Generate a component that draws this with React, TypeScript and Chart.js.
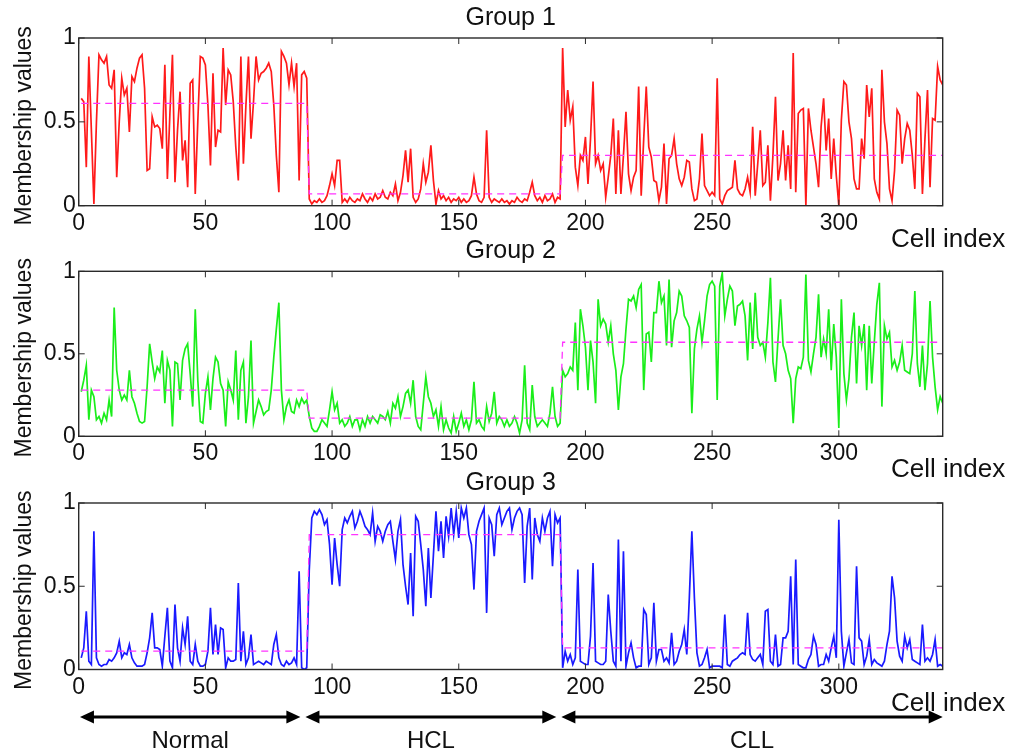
import React, { useEffect, useRef } from "react";
import { Chart, registerables } from "chart.js";
Chart.register(...registerables);

// ---------- data ----------
const regionNames = ["Normal", "HCL", "CLL"];
const regionFirst = [1, 91, 191];
const regionLast = [90, 190, 341];
const arrowFrom = [0.5, 89.5, 190.5];
const arrowTo = [87.5, 188.5, 341];
const xTicks = [0, 50, 100, 150, 200, 250, 300];
const yTicks = [0, 0.5, 1];
const xMax = 341;

const g1Normal = [0.64,0.62,0.23,0.89,0.45,0.01,0.50,0.90,0.87,0.85,
 0.89,0.72,0.70,0.81,0.17,0.50,0.76,0.66,0.70,0.44,
 0.77,0.74,0.82,0.88,0.90,0.70,0.21,0.22,0.53,0.47,
 0.48,0.46,0.34,0.84,0.16,0.55,0.90,0.14,0.45,0.68,
 0.27,0.39,0.11,0.73,0.75,0.07,0.50,0.89,0.88,0.84,
 0.60,0.24,0.79,0.35,0.45,0.44,0.94,0.60,0.81,0.78,
 0.62,0.35,0.15,0.89,0.25,0.60,0.89,0.40,0.62,0.89,
 0.75,0.79,0.80,0.82,0.85,0.80,0.60,0.30,0.08,0.92,
 0.89,0.85,0.72,0.85,0.71,0.85,0.15,0.78,0.80,0.76];
const g1Hcl = [0.04,0.01,0.03,0.02,0.04,0.02,0.03,0.06,0.12,0.19,
 0.12,0.27,0.27,0.02,0.04,0.02,0.05,0.03,0.02,0.04,
 0.03,0.07,0.04,0.02,0.05,0.03,0.07,0.04,0.05,0.09,
 0.05,0.04,0.08,0.06,0.13,0.03,0.08,0.18,0.33,0.14,
 0.34,0.05,0.02,0.04,0.10,0.25,0.14,0.20,0.36,0.15,
 0.01,0.09,0.04,0.06,0.03,0.05,0.02,0.04,0.03,0.05,
 0.02,0.04,0.02,0.03,0.06,0.17,0.07,0.03,0.02,0.05,
 0.45,0.05,0.02,0.04,0.03,0.02,0.04,0.02,0.03,0.01,
 0.03,0.02,0.05,0.03,0.02,0.04,0.03,0.08,0.14,0.06,
 0.03,0.05,0.02,0.06,0.03,0.04,0.07,0.02,0.05,0.04];
const g1Cll = [0.94,0.47,0.69,0.51,0.59,0.23,0.12,0.30,0.27,0.41,
 0.13,0.40,0.74,0.25,0.30,0.21,0.25,0.05,0.17,0.30,
 0.52,0.07,0.45,0.07,0.30,0.56,0.19,0.09,0.17,0.21,
 0.71,0.06,0.40,0.71,0.35,0.29,0.15,0.14,0.03,0.11,
 0.37,0.01,0.28,0.30,0.40,0.25,0.16,0.12,0.17,0.27,
 0.26,0.10,0.03,0.04,0.16,0.43,0.12,0.09,0.06,0.08,
 0.06,0.76,0.04,0.01,0.06,0.09,0.10,0.11,0.27,0.10,
 0.07,0.06,0.10,0.17,0.08,0.47,0.06,0.25,0.45,0.12,
 0.14,0.36,0.03,0.30,0.65,0.15,0.25,0.45,0.15,0.36,
 0.10,0.91,0.08,0.55,0.57,0.58,0.00,0.58,0.45,0.35,
 0.25,0.11,0.47,0.64,0.33,0.52,0.16,0.40,0.18,0.00,
 0.51,0.74,0.72,0.50,0.40,0.16,0.10,0.10,0.40,0.28,
 0.72,0.53,0.70,0.16,0.08,0.04,0.81,0.50,0.37,0.10,
 0.03,0.21,0.57,0.54,0.25,0.40,0.49,0.45,0.30,0.10,
 0.67,0.65,0.07,0.40,0.69,0.11,0.52,0.51,0.83,0.75,
 0.72];
const g1Means = [0.61, 0.07, 0.30];

const g2Normal = [0.27,0.34,0.43,0.10,0.28,0.24,0.10,0.12,0.08,0.14,
 0.10,0.22,0.12,0.78,0.40,0.28,0.22,0.25,0.22,0.40,
 0.24,0.20,0.14,0.09,0.08,0.09,0.30,0.56,0.45,0.35,
 0.42,0.39,0.52,0.20,0.46,0.40,0.06,0.45,0.44,0.22,
 0.46,0.53,0.56,0.38,0.18,0.77,0.34,0.09,0.08,0.26,
 0.36,0.16,0.35,0.48,0.45,0.32,0.28,0.06,0.33,0.28,
 0.22,0.52,0.10,0.40,0.45,0.08,0.24,0.58,0.08,0.15,
 0.22,0.18,0.13,0.15,0.16,0.28,0.48,0.65,0.81,0.28,
 0.10,0.18,0.22,0.15,0.14,0.22,0.18,0.23,0.20,0.22];
const g2Hcl = [0.12,0.05,0.03,0.03,0.06,0.10,0.08,0.06,0.16,0.27,
 0.16,0.20,0.08,0.10,0.06,0.08,0.12,0.06,0.10,0.10,
 0.04,0.10,0.06,0.12,0.08,0.12,0.10,0.08,0.13,0.12,
 0.10,0.15,0.08,0.20,0.17,0.24,0.12,0.18,0.26,0.28,
 0.20,0.34,0.12,0.06,0.04,0.20,0.36,0.24,0.20,0.12,
 0.16,0.06,0.18,0.04,0.10,0.05,0.02,0.12,0.03,0.08,
 0.14,0.06,0.10,0.04,0.10,0.33,0.08,0.10,0.06,0.04,
 0.18,0.09,0.14,0.27,0.08,0.12,0.10,0.06,0.10,0.06,
 0.08,0.12,0.08,0.02,0.10,0.43,0.08,0.04,0.31,0.12,
 0.06,0.08,0.10,0.08,0.06,0.14,0.30,0.12,0.06,0.08];
const g2Cll = [0.40,0.36,0.38,0.42,0.40,0.69,0.28,0.77,0.67,0.54,
 0.28,0.58,0.45,0.20,0.83,0.67,0.71,0.68,0.57,0.67,
 0.50,0.40,0.16,0.36,0.44,0.65,0.83,0.82,0.85,0.78,
 0.89,0.92,0.28,0.62,0.63,0.45,0.75,0.75,0.94,0.81,
 0.85,0.55,0.95,0.54,0.70,0.75,0.88,0.85,0.73,0.70,
 0.66,0.14,0.53,0.65,0.73,0.57,0.70,0.85,0.92,0.94,
 0.91,0.22,0.91,0.99,0.73,0.83,0.91,0.88,0.67,0.79,
 0.80,0.82,0.73,0.46,0.81,0.53,0.87,0.60,0.55,0.57,
 0.48,0.69,0.96,0.45,0.33,0.59,0.83,0.55,0.50,0.40,
 0.35,0.08,0.35,0.42,0.41,0.48,0.98,0.46,0.39,0.50,
 0.60,0.86,0.48,0.59,0.50,0.77,0.40,0.68,0.48,0.05,
 0.83,0.38,0.22,0.35,0.60,0.75,0.32,0.67,0.55,0.68,
 0.28,0.67,0.32,0.57,0.80,0.93,0.18,0.67,0.59,0.63,
 0.42,0.46,0.40,0.45,0.55,0.40,0.39,0.38,0.50,0.88,
 0.44,0.30,0.55,0.28,0.44,0.82,0.48,0.30,0.16,0.24,
 0.20];
const g2Means = [0.28, 0.11, 0.57];

const g3Normal = [0.07,0.13,0.35,0.05,0.03,0.83,0.07,0.03,0.02,0.03,
 0.03,0.06,0.05,0.07,0.10,0.17,0.07,0.10,0.09,0.15,
 0.07,0.04,0.02,0.02,0.02,0.03,0.10,0.19,0.34,0.13,
 0.13,0.12,0.02,0.20,0.37,0.05,0.01,0.39,0.13,0.05,
 0.25,0.15,0.32,0.05,0.03,0.15,0.05,0.02,0.02,0.03,
 0.11,0.37,0.09,0.27,0.09,0.25,0.24,0.01,0.07,0.05,
 0.05,0.06,0.52,0.05,0.23,0.03,0.07,0.21,0.03,0.04,
 0.05,0.04,0.03,0.05,0.04,0.03,0.15,0.21,0.07,0.03,
 0.02,0.05,0.03,0.04,0.07,0.03,0.59,0.01,0.00,0.01];
const g3Hcl = [0.60,0.91,0.95,0.93,0.96,0.93,0.87,0.90,0.75,0.51,
 0.79,0.63,0.50,0.84,0.91,0.88,0.92,0.95,0.85,0.89,
 0.95,0.91,0.86,0.84,0.81,0.94,0.77,0.86,0.83,0.77,
 0.83,0.87,0.89,0.77,0.66,0.83,0.90,0.63,0.50,0.39,
 0.70,0.32,0.92,0.89,0.75,0.60,0.38,0.73,0.43,0.69,
 0.95,0.71,0.89,0.67,0.92,0.80,0.97,0.81,0.95,0.79,
 0.97,0.91,0.97,0.81,0.75,0.48,0.83,0.89,0.93,0.97,
 0.34,0.91,0.87,0.68,0.93,0.97,0.87,0.91,0.95,0.97,
 0.84,0.91,0.95,0.97,0.93,0.52,0.86,0.97,0.54,0.91,
 0.81,0.77,0.91,0.83,0.91,0.95,0.62,0.93,0.88,0.91];
const g3Cll = [0.01,0.11,0.05,0.09,0.03,0.07,0.60,0.05,0.04,0.03,
 0.03,0.20,0.64,0.05,0.04,0.03,0.03,0.05,0.45,0.23,
 0.05,0.02,0.78,0.05,0.71,0.02,0.10,0.16,0.07,0.01,
 0.02,0.02,0.36,0.33,0.03,0.07,0.40,0.05,0.12,0.12,
 0.05,0.07,0.04,0.22,0.03,0.05,0.11,0.15,0.24,0.09,
 0.43,0.83,0.43,0.10,0.02,0.03,0.07,0.12,0.01,0.02,
 0.02,0.02,0.02,0.01,0.33,0.03,0.02,0.05,0.06,0.07,
 0.09,0.10,0.09,0.34,0.09,0.06,0.05,0.07,0.09,0.03,
 0.35,0.36,0.05,0.03,0.21,0.02,0.03,0.19,0.19,0.23,
 0.56,0.03,0.66,0.03,0.02,0.01,0.01,0.06,0.09,0.20,
 0.15,0.02,0.03,0.03,0.09,0.05,0.13,0.20,0.07,0.90,
 0.23,0.02,0.10,0.18,0.04,0.03,0.62,0.19,0.17,0.03,
 0.08,0.18,0.03,0.06,0.04,0.03,0.02,0.05,0.15,0.23,
 0.56,0.43,0.17,0.08,0.05,0.20,0.13,0.18,0.06,0.05,
 0.04,0.03,0.27,0.05,0.07,0.05,0.09,0.18,0.02,0.03,
 0.02];
const g3Means = [0.11, 0.81, 0.13];

// ---------- layout / style ----------
const FONT = '"Liberation Sans", Arial, Helvetica, sans-serif';
const panels = [
  { title: "Group 1", color: "#ff1a1a", segs: [g1Normal, g1Hcl, g1Cll], means: g1Means,
    canvasTop: 0, canvasH: 250, plotTop: 38, plotBottom: 205.7, arrows: false },
  { title: "Group 2", color: "#1aee1a", segs: [g2Normal, g2Hcl, g2Cll], means: g2Means,
    canvasTop: 235, canvasH: 250, plotTop: 36.3, plotBottom: 201.3, arrows: false },
  { title: "Group 3", color: "#1a1aff", segs: [g3Normal, g3Hcl, g3Cll], means: g3Means,
    canvasTop: 470, canvasH: 283, plotTop: 33, plotBottom: 199.5, arrows: true },
];
const PLOT_LEFT = 78.7;
const PLOT_RIGHT = 942.7;

function decorPlugin(panel: any) {
  return {
    id: "decor",
    afterDraw(chart: any) {
      const { ctx, chartArea: a, scales } = chart;
      const xs = scales.x, ys = scales.y;
      ctx.save();
      // frame
      ctx.strokeStyle = "#2a2a2a";
      ctx.lineWidth = 1.4;
      ctx.strokeRect(a.left, a.top, a.right - a.left, a.bottom - a.top);
      // inward ticks
      ctx.lineWidth = 1;
      ctx.beginPath();
      xTicks.forEach((v) => {
        const px = xs.getPixelForValue(v);
        ctx.moveTo(px, a.bottom); ctx.lineTo(px, a.bottom - 6);
        ctx.moveTo(px, a.top); ctx.lineTo(px, a.top + 6);
      });
      yTicks.forEach((v) => {
        const py = ys.getPixelForValue(v);
        ctx.moveTo(a.left, py); ctx.lineTo(a.left + 6, py);
        ctx.moveTo(a.right, py); ctx.lineTo(a.right - 6, py);
      });
      ctx.stroke();
      // texts
      ctx.fillStyle = "#111";
      ctx.textAlign = "center";
      ctx.textBaseline = "middle";
      ctx.font = `25px ${FONT}`;
      ctx.fillText(panel.title, (a.left + a.right) / 2, a.top - 20);
      ctx.textAlign = "left";
      ctx.textBaseline = "alphabetic";
      ctx.font = `26px ${FONT}`;
      ctx.fillText("Cell index", 891, a.bottom + 41);
      ctx.save();
      ctx.translate(25, (a.top + a.bottom) / 2 + 4);
      ctx.rotate(-Math.PI / 2);
      ctx.textAlign = "center";
      ctx.textBaseline = "middle";
      ctx.font = `23px ${FONT}`;
      ctx.fillText("Membership values", 0, 0);
      ctx.restore();
      if (panel.arrows) {
        const ay = a.bottom + 47.5;
        ctx.strokeStyle = "#000";
        ctx.fillStyle = "#000";
        ctx.lineWidth = 3;
        regionNames.forEach((name, r) => {
          const x1 = xs.getPixelForValue(arrowFrom[r]);
          const x2 = xs.getPixelForValue(arrowTo[r]);
          const hl = 14, hw = 6.5;
          ctx.beginPath();
          ctx.moveTo(x1 + hl - 2, ay); ctx.lineTo(x2 - hl + 2, ay);
          ctx.stroke();
          ctx.beginPath();
          ctx.moveTo(x1, ay); ctx.lineTo(x1 + hl, ay - hw); ctx.lineTo(x1 + hl, ay + hw); ctx.closePath();
          ctx.fill();
          ctx.beginPath();
          ctx.moveTo(x2, ay); ctx.lineTo(x2 - hl, ay - hw); ctx.lineTo(x2 - hl, ay + hw); ctx.closePath();
          ctx.fill();
          ctx.font = `24px ${FONT}`;
          ctx.textAlign = "center";
          ctx.textBaseline = "middle";
          ctx.fillStyle = "#111";
          ctx.fillText(name, (x1 + x2) / 2, a.bottom + 72);
          ctx.fillStyle = "#000";
        });
      }
      ctx.restore();
    },
  };
}

function makeChart(canvas: HTMLCanvasElement, panel: any) {
  const values: number[] = [].concat(...panel.segs);
  const series = values.map((v, k) => ({ x: regionFirst[0] + k, y: v }));
  const meanPts: { x: number; y: number }[] = [];
  panel.means.forEach((m: number, r: number) => {
    meanPts.push({ x: regionFirst[r], y: m }, { x: regionLast[r], y: m });
  });
  const tickFont = { family: FONT, size: 23 };
  return new Chart(canvas, {
    type: "line",
    data: {
      datasets: [
        { data: meanPts, borderColor: "#ff33ff", borderWidth: 1.3, borderDash: [7, 5],
          pointRadius: 0, fill: false, tension: 0 },
        { data: series, borderColor: panel.color, borderWidth: 1.7, pointRadius: 0,
          fill: false, tension: 0 },
      ],
    },
    options: {
      animation: false,
      responsive: false,
      devicePixelRatio: 1,
      events: [],
      layout: { padding: { top: panel.plotTop, right: 1011 - PLOT_RIGHT, left: 0, bottom: 0 } },
      plugins: { legend: { display: false }, tooltip: { enabled: false }, title: { display: false } },
      scales: {
        x: {
          type: "linear", min: 0, max: xMax,
          afterBuildTicks: (s: any) => { s.ticks = xTicks.map((v) => ({ value: v })); },
          afterFit: (s: any) => { s.height = panel.canvasH - panel.plotBottom; },
          grid: { display: false, drawTicks: false },
          border: { display: false },
          ticks: { padding: 4, font: tickFont, color: "#111", maxRotation: 0, autoSkip: false },
        },
        y: {
          type: "linear", min: 0, max: 1,
          afterBuildTicks: (s: any) => { s.ticks = yTicks.map((v) => ({ value: v })); },
          afterFit: (s: any) => { s.width = PLOT_LEFT; },
          grid: { display: false, drawTicks: false },
          border: { display: false },
          ticks: { padding: 3, font: tickFont, color: "#111", callback: (v: any) => String(v) },
        },
      },
    } as any,
    plugins: [decorPlugin(panel)],
  });
}

export default function App() {
  const r0 = useRef<HTMLCanvasElement>(null);
  const r1 = useRef<HTMLCanvasElement>(null);
  const r2 = useRef<HTMLCanvasElement>(null);
  const refs = [r0, r1, r2];
  useEffect(() => {
    const charts = panels.map((p, i) => makeChart(refs[i].current as HTMLCanvasElement, p));
    return () => charts.forEach((c) => c.destroy());
  }, []);
  return (
    <div style={{ position: "absolute", left: 0, top: 0, width: 1011, height: 753, background: "#fff", overflow: "hidden" }}>
      {panels.map((p, i) => (
        <canvas key={i} ref={refs[i]} width={1011} height={p.canvasH}
          style={{ position: "absolute", left: 0, top: p.canvasTop, width: 1011, height: p.canvasH }} />
      ))}
    </div>
  );
}
